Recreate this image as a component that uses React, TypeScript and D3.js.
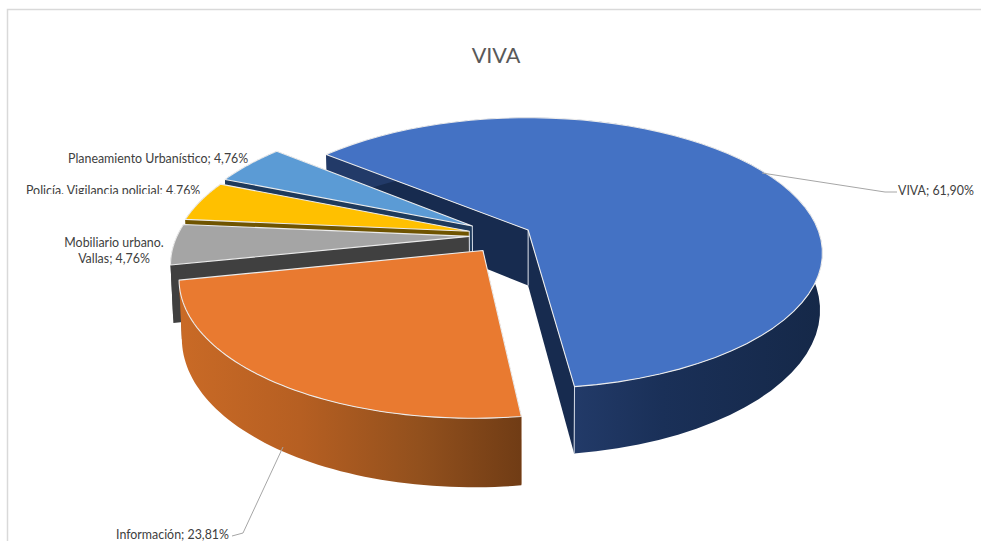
import React from "react";
import * as d3 from "d3";

const title = "VIVA";
const categories = ["VIVA", "Información", "Mobiliario urbano. Vallas", "Policía. Vigilancia policial", "Planeamiento Urbanístico"];
const values = [61.9, 23.81, 4.76, 4.76, 4.76];
const valueLabels = ["61,90%", "23,81%", "4,76%", "4,76%", "4,76%"];
const explode = [0.084, 0.136, 0.128, 0.133, 0.14];
const topColors = ["#4472c4", "#e97a30", "#a5a5a5", "#ffc000", "#5b9bd5"];
const wallColors = ["#172b4f", "#8a4a1c", "#404040", "#6f5400", "#1e3a5c"];

const W = 981, H = 541;
const ORIGIN = [528, 230];
const K = 0.17, A = 290, B = 131.4, DEPTH = 55.5, SHRINK = 0.992;
const CENTER = [-0.073, 0.041];
const rad = (d: number) => (d * Math.PI) / 180;

// plane coordinates -> screen (perspective view of the pie)
function top(X: number, Y: number): [number, number] {
  const w = 1 - K * Y;
  return [ORIGIN[0] + (A * X) / w, ORIGIN[1] + (B * Y) / w];
}
function bottom(X: number, Y: number): [number, number] {
  const w = 1 - K * Y;
  return [ORIGIN[0] + (SHRINK * A * X) / w, ORIGIN[1] + (B * Y) / w + DEPTH / w];
}

const pie = d3.pie<number>().sort(null).startAngle(rad(-50.5)).endAngle(rad(309.5));
const arcs = pie(values);
const line = d3.line();

function slice(i: number) {
  const a = arcs[i];
  const mid = (a.startAngle + a.endAngle) / 2;
  const ox = CENTER[0] + explode[i] * Math.sin(mid);
  const oy = CENTER[1] - explode[i] * Math.cos(mid);
  const angles = d3.range(0, 61).map((t) => a.startAngle + ((a.endAngle - a.startAngle) * t) / 60);
  const rim = angles.map((t) => [ox + Math.sin(t), oy - Math.cos(t)] as [number, number]);
  const topRim = rim.map((p) => top(p[0], p[1]));
  const botRim = rim.map((p) => bottom(p[0], p[1]));
  const apexT = top(ox, oy);
  const apexB = bottom(ox, oy);
  const firstT = topRim[0], lastT = topRim[60], firstB = botRim[0], lastB = botRim[60];
  return {
    face: line([apexT, ...topRim])! + "Z",
    startWall: line([apexT, firstT, firstB, apexB])! + "Z",
    endWall: line([apexT, lastT, lastB, apexB])! + "Z",
    outer: line([...topRim, ...botRim.slice().reverse()])! + "Z",
    verticals: i === 0 ? [line([apexT, apexB])!, line([lastT, lastB])!] : [line([apexT, apexB])!],
  };
}
const slices = values.map((_, i) => slice(i));
const drawOrder = [0, 4, 3, 2, 1];

const labelStyle = { fontFamily: "Lato, 'Open Sans', sans-serif", fontSize: 12.4, fill: "#404040" } as const;
const leader = "#a6a6a6";

export default function App() {
  return (
    <svg width={W} height={H} style={{ position: "absolute", left: 0, top: 0, display: "block", background: "#fff" }}>
      <defs>
        <linearGradient id="side0" gradientUnits="userSpaceOnUse" x1={575} x2={825} y1={0} y2={0}>
          <stop offset="0" stopColor="#223a68" />
          <stop offset="0.35" stopColor="#1a3058" />
          <stop offset="1" stopColor="#152848" />
        </linearGradient>
        <linearGradient id="side1" gradientUnits="userSpaceOnUse" x1={180} x2={522} y1={0} y2={0}>
          <stop offset="0" stopColor="#c96a26" />
          <stop offset="0.35" stopColor="#b65f22" />
          <stop offset="0.7" stopColor="#92501d" />
          <stop offset="1" stopColor="#703c15" />
        </linearGradient>
        <clipPath id="policiaClip"><rect x={0} y={180} width={300} height={14} /></clipPath>
      </defs>
      <path d="M7.5 541V9.5H981" fill="none" stroke="#d9d9d9" strokeWidth={1.5} />
      <text x={496} y={62.5} textAnchor="middle" style={{ fontFamily: "Lato, 'Open Sans', sans-serif", fontSize: 21.6, fill: "#595959" }}>{title}</text>

      {drawOrder.map((i) => {
        const s = slices[i];
        return (
          <g key={categories[i]}>
            <path d={s.startWall} fill={wallColors[i]} />
            <path d={s.endWall} fill={wallColors[i]} />
            <path d={s.outer} fill={i < 2 ? `url(#side${i})` : wallColors[i]} />
            {s.verticals.map((d, j) => <path key={j} d={d} stroke="#d5dbe6" strokeWidth={1} fill="none" />)}
            <path d={s.face} fill={topColors[i]} stroke="#ececec" strokeWidth={1.1} strokeLinejoin="round" />
          </g>
        );
      })}

      <path d="M762 173L885 192H897" fill="none" stroke={leader} strokeWidth={1} />
      <path d="M283 447L243 533L232 536" fill="none" stroke={leader} strokeWidth={1} />

      <text x={898} y={195} style={labelStyle}>{categories[0]}; {valueLabels[0]}</text>
      <text x={116} y={538.5} style={labelStyle}>{categories[1]}; {valueLabels[1]}</text>
      <text x={114} y={247} textAnchor="middle" style={labelStyle}>Mobiliario urbano.</text>
      <text x={114} y={263} textAnchor="middle" style={labelStyle}>Vallas; {valueLabels[2]}</text>
      <g clipPath="url(#policiaClip)">
        <text x={26} y={195} style={labelStyle}>{categories[3]}; {valueLabels[3]}</text>
      </g>
      <text x={68} y={163} style={labelStyle}>{categories[4]}; {valueLabels[4]}</text>
    </svg>
  );
}
